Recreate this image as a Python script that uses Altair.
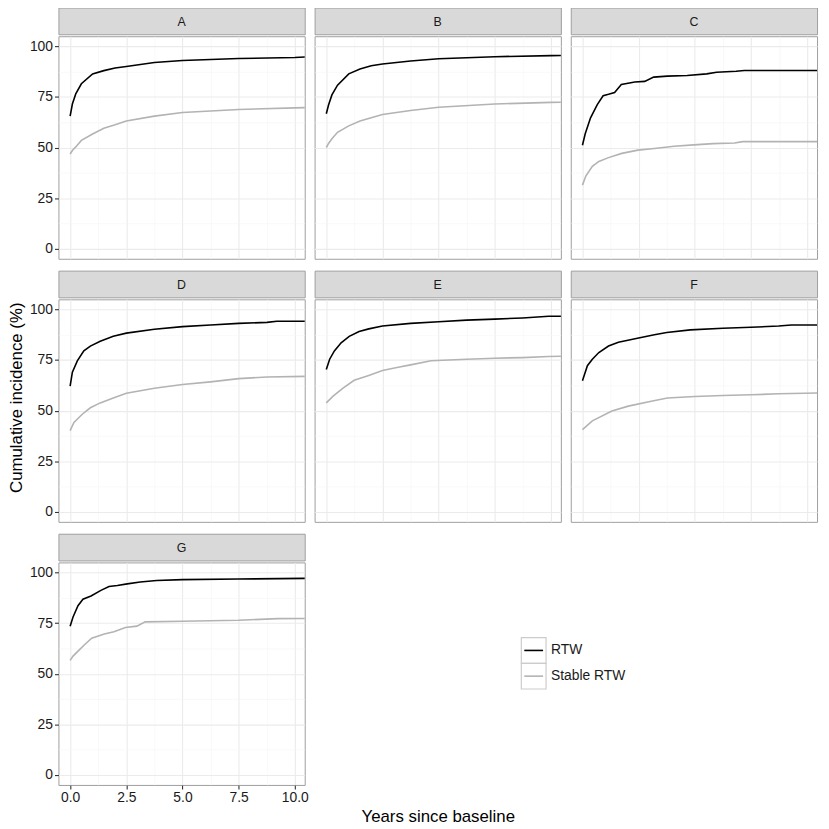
import altair as alt
import pandas as pd

# ---------------- data ----------------
panel_names = ["A", "B", "C", "D", "E", "F", "G"]
series_names = ["RTW", "Stable RTW"]
series_colors = ["#000000", "#B3B3B3"]

ab_t = [0, 0.1, 0.25, 0.5, 1, 1.5, 2, 2.5, 3.75, 5, 7.5, 10, 10.44]
a_rtw = [65.5, 71.5, 76.5, 81.5, 86.4, 88.0, 89.3, 90.0, 92.0, 93.0, 94.0, 94.5, 94.7]
a_st = [46.8, 48.5, 50.3, 53.5, 56.7, 59.5, 61.2, 63.1, 65.5, 67.3, 68.8, 69.6, 69.7]
b_rtw = [66.7, 71.0, 76.0, 80.8, 86.4, 88.8, 90.4, 91.3, 92.8, 93.9, 94.9, 95.4, 95.5]
b_st = [50.0, 52.0, 54.3, 57.5, 60.7, 63.1, 64.7, 66.3, 68.3, 69.9, 71.5, 72.3, 72.4]

c_rtw_t = [0, 0.12, 0.36, 0.66, 0.92, 1.16, 1.43, 1.73, 1.97, 2.33, 2.77, 3.17, 3.78, 4.66,
           5.53, 5.97, 6.84, 7.2, 10.44]
c_rtw = [51.1, 56.7, 64.7, 71.2, 75.6, 76.3, 77.2, 81.1, 81.6, 82.4, 82.7, 84.8, 85.3, 85.6,
         86.4, 87.2, 87.7, 88.1, 88.1]
c_st_t = [0, 0.15, 0.44, 0.73, 1.16, 1.75, 2.47, 3.2, 4.08, 4.95, 5.82, 6.77, 7.13, 10.44]
c_st = [31.4, 35.9, 40.7, 43.1, 45.0, 47.1, 48.7, 49.5, 50.6, 51.3, 51.9, 52.2, 52.9, 52.9]

d_rtw_t = [0, 0.1, 0.32, 0.61, 0.9, 1.34, 1.92, 2.5, 3.75, 5, 6.25, 7.5, 8.76, 9.2, 10.44]
d_rtw = [62.1, 69.0, 74.6, 79.5, 81.9, 84.3, 86.7, 88.3, 90.2, 91.5, 92.3, 93.1, 93.6, 94.2, 94.2]
d_st_t = [0, 0.17, 0.54, 0.9, 1.34, 1.92, 2.5, 3.75, 5, 6.25, 7.5, 8.76, 10.44]
d_st = [40.1, 44.1, 48.2, 51.4, 53.8, 56.2, 58.6, 61.0, 62.9, 64.2, 65.8, 66.6, 66.9]

e_rtw_t = [0, 0.15, 0.36, 0.66, 1.02, 1.46, 1.89, 2.5, 3.75, 5, 6.25, 7.5, 8.73, 9.9, 10.44]
e_rtw = [70.3, 75.4, 79.5, 83.5, 86.7, 89.1, 90.4, 91.8, 93.1, 93.9, 94.7, 95.2, 95.8, 96.6, 96.6]
e_st_t = [0, 0.29, 0.73, 1.24, 1.89, 2.5, 3.2, 3.75, 4.66, 6.25, 7.5, 8.73, 9.9, 10.44]
e_st = [53.8, 57.0, 61.0, 65.0, 67.4, 69.8, 71.4, 72.6, 74.6, 75.4, 75.9, 76.2, 76.7, 76.9]

f_rtw_t = [0, 0.22, 0.44, 0.73, 1.16, 1.6, 2.5, 3.2, 3.75, 4.8, 6.25, 7.5, 8.73, 9.3, 10.44]
f_rtw = [64.7, 72.2, 75.4, 78.7, 81.9, 83.8, 85.9, 87.5, 88.6, 89.9, 90.7, 91.2, 91.8, 92.3, 92.3]
f_st_t = [0, 0.44, 1.31, 2.04, 3.06, 3.78, 5, 6.25, 7.5, 8.73, 10.44]
f_st = [40.6, 44.9, 49.8, 52.2, 54.6, 56.2, 57.0, 57.5, 57.8, 58.3, 58.7]

g_rtw_t = [0, 0.13, 0.35, 0.57, 0.93, 1.37, 1.73, 2.1, 2.54, 3.12, 3.85, 5, 7.5, 10.44]
g_rtw = [73.5, 78.0, 83.6, 86.8, 88.4, 91.2, 93.1, 93.6, 94.4, 95.3, 96.1, 96.5, 96.8, 97.1]
g_st_t = [0, 0.13, 0.42, 0.64, 0.96, 1.52, 1.95, 2.46, 2.97, 3.34, 5, 7.5, 9.24, 10.44]
g_st = [56.6, 58.7, 61.9, 64.3, 67.5, 69.6, 70.7, 72.8, 73.5, 75.6, 75.9, 76.4, 77.2, 77.3]

x_major = [0, 2.5, 5, 7.5, 10]
y_major = [0, 25, 50, 75, 100]

curves = {
    "A": [(ab_t, a_rtw), (ab_t, a_st)],
    "B": [(ab_t, b_rtw), (ab_t, b_st)],
    "C": [(c_rtw_t, c_rtw), (c_st_t, c_st)],
    "D": [(d_rtw_t, d_rtw), (d_st_t, d_st)],
    "E": [(e_rtw_t, e_rtw), (e_st_t, e_st)],
    "F": [(f_rtw_t, f_rtw), (f_st_t, f_st)],
    "G": [(g_rtw_t, g_rtw), (g_st_t, g_st)],
}

rows = []
for p in panel_names:
    for s, (ts, vs) in zip(series_names, curves[p]):
        for t, v in zip(ts, vs):
            rows.append({"panel": p, "series": s, "t": t, "v": v})
df = pd.DataFrame(rows)

# ---------------- styling ----------------
FONT = "Liberation Sans"
W, H, SH = 249, 225, 27
GAP = 5
BORDER = "#9E9E9E"
TXT = "#1A1A1A"

x_vals = [i * 1.25 for i in range(9)]
y_vals = [i * 12.5 for i in range(9)]

x_test = "abs(datum.value / 2.5 - round(datum.value / 2.5)) < 0.001"
y_test = "datum.value % 25 === 0"


def grid_props(test, with_ticks=True):
    d = dict(
        grid=True,
        gridColor={"condition": {"test": test, "value": "#EBEBEB"}, "value": "#F4F4F4"},
        gridWidth={"condition": {"test": test, "value": 1.1}, "value": 0.6},
    )
    if with_ticks:
        d["tickOpacity"] = {"condition": {"test": test, "value": 1}, "value": 0}
    return d


def x_axis(show, title=None):
    if show:
        return alt.Axis(values=x_vals, labelExpr=f"{x_test} ? format(datum.value, '.1f') : ''",
                        domain=False, tickSize=4, tickColor="#333333", tickWidth=1.1,
                        labelColor=TXT, labelFontSize=14, labelFont=FONT, labelPadding=2,
                        title=title, titleFont=FONT, titleFontSize=17, titleFontWeight="normal",
                        titleColor="#000000", titleX=(3 * W + 20) / 2, titlePadding=4,
                        **grid_props(x_test))
    return alt.Axis(values=x_vals, labels=False, ticks=False, domain=False, title=None,
                    **grid_props(x_test, False))


def y_axis(show, title=None):
    if show:
        kw = dict(values=y_vals, labelExpr=f"{y_test} ? datum.label : ''",
                  domain=False, tickSize=4, tickColor="#333333", tickWidth=1.1,
                  labelColor=TXT, labelFontSize=14, labelFont=FONT, labelPadding=2,
                  **grid_props(y_test))
        if title:
            kw.update(title=title, titleFont=FONT, titleFontSize=17, titleFontWeight="normal",
                      titleColor="#000000", titlePadding=4, titleY=(H - SH) / 2)
        else:
            kw.update(title=None)
        return alt.Axis(**kw)
    return alt.Axis(values=y_vals, labels=False, ticks=False, domain=False, title=None,
                    **grid_props(y_test, False))


color_scale = alt.Scale(domain=series_names, range=series_colors)


def panel(p, show_x=False, show_y=False, y_title=None, x_title=None):
    strip = alt.Chart(pd.DataFrame({"panel": [p]})).mark_text(
        font=FONT, fontSize=12.5, color=TXT
    ).encode(
        text="panel:N", x=alt.value(W / 2), y=alt.value(SH / 2 + 1)
    ).properties(width=W, height=SH,
                 view=alt.ViewBackground(fill="#D9D9D9", stroke=BORDER, strokeWidth=1))

    plot = alt.Chart(df).transform_filter(alt.datum.panel == p).mark_line(
        strokeWidth=1.6, interpolate="linear"
    ).encode(
        x=alt.X("t:Q", scale=alt.Scale(domain=[-0.52, 10.44], nice=False, zero=False),
                axis=x_axis(show_x, x_title)),
        y=alt.Y("v:Q", scale=alt.Scale(domain=[-5, 105], nice=False, zero=False),
                axis=y_axis(show_y, y_title)),
        color=alt.Color("series:N", scale=color_scale, legend=None),
        detail="series:N",
    ).properties(width=W, height=H,
                 view=alt.ViewBackground(stroke=BORDER, strokeWidth=1, fill="#FFFFFF"))
    return alt.vconcat(strip, plot, spacing=0)


# ---- legend drawn from the series names (key boxes as in ggplot) ----
LX = -3
legend_df = pd.DataFrame({"series": series_names})
leg_y = alt.Y("series:N", axis=None,
              scale=alt.Scale(domain=series_names, range=[105, 157],
                              paddingInner=0, paddingOuter=0))
leg_base = alt.Chart(legend_df).encode(y=leg_y)
leg_boxes = leg_base.mark_rect(fill="#FFFFFF", stroke="#CCCCCC", strokeWidth=1.2).encode(
    x=alt.value(LX), x2=alt.value(LX + 25))
leg_lines = leg_base.mark_rule(strokeWidth=1.6).encode(
    x=alt.value(LX + 3), x2=alt.value(LX + 22),
    color=alt.Color("series:N", scale=color_scale, legend=None))
leg_text = leg_base.mark_text(align="left", baseline="middle", font=FONT, fontSize=14,
                              color=TXT).encode(x=alt.value(LX + 30), text="series:N")
legend_chart = alt.layer(leg_boxes, leg_lines, leg_text).properties(
    width=150, height=SH + H,
    view=alt.ViewBackground(strokeWidth=0, fillOpacity=0))

row1 = alt.hconcat(panel("A", show_y=True), panel("B"), panel("C"), spacing=GAP)
row2 = alt.hconcat(panel("D", show_y=True, y_title="Cumulative incidence (%)"), panel("E"),
                   panel("F"), spacing=GAP)
row3 = alt.hconcat(panel("G", show_x=True, show_y=True, x_title="Years since baseline"),
                   legend_chart, spacing=GAP)

chart = alt.vconcat(row1, row2, row3, spacing=10).properties(
    padding={"left": -1, "top": -6, "right": 0, "bottom": 0}
).configure(font=FONT).configure_view(stroke=BORDER)

chart.save("out.html", embed_options={"renderer": "svg", "actions": False})
